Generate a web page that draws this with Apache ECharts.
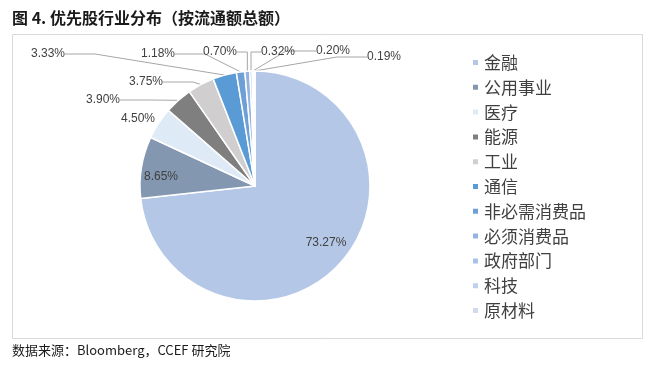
<!DOCTYPE html>
<html>
<head>
<meta charset="utf-8">
<script src="https://cdn.jsdelivr.net/npm/echarts@6/dist/echarts.min.js"></script>
<style>
html,body{margin:0;padding:0;background:#fff;}
#c{width:656px;height:366px;}
</style>
</head>
<body>
<div id="c"></div>
<script>
// ---- data ----
const categories = ['金融','公用事业','医疗','能源','工业','通信','非必需消费品','必须消费品','政府部门','科技','原材料'];
const values = [73.27, 8.65, 4.50, 3.90, 3.75, 3.33, 1.18, 0.70, 0.32, 0.20, 0.19];
const titleText = '图 4. 优先股行业分布（按流通额总额）';
const sourceText = '数据来源：Bloomberg，CCEF 研究院';

// ---- styles / layout ----
const colors = ['#B4C7E7','#8497B0','#DEEBF7','#7F7F7F','#D0CECE','#5B9BD5','#6E9FD6','#95B3DF','#A9C2E8','#BDD1EE','#D0DBEF'];
const labelPos = [[326,243],[161,177],[138,119],[103,100],[146,82],[48,54],[158,54],[220,52],[278,52],[333,51],[384,57]];
const insideIdx = [0,1];

const data = categories.map((n,i)=>{
  const item = {name:n, value:values[i], itemStyle:{color:colors[i]}};
  if (insideIdx.indexOf(i) >= 0) {
    item.label = {position:'inside'};
    item.labelLine = {show:false};
  }
  if (i === 2) { item.labelLine = {show:false}; }
  return item;
});

const chart = echarts.init(document.getElementById('c'), null, {renderer:'canvas'});
chart.setOption({
  animation:false,
  graphic:[
    {type:'text', left:12, top:10, style:{text:titleText, font:'bold 16px "Noto Sans CJK SC", sans-serif', fill:'#1a1a1a'}},
    {type:'rect', shape:{x:12.5, y:34.5, width:630, height:304}, style:{fill:'none', stroke:'#d9d9d9', lineWidth:1}, silent:true},
    {type:'text', left:12, top:344, style:{text:sourceText, font:'13px "Noto Sans CJK SC", sans-serif', fill:'#1a1a1a'}}
  ],
  legend:{
    orient:'vertical', left:466, top:49,
    icon:'rect', itemWidth:7, itemHeight:7, itemGap:7.8,
    textStyle:{fontSize:17, lineHeight:17, color:'#404040', fontFamily:'"Noto Sans CJK SC", sans-serif', padding:[0,0,0,0]},
    data:categories
  },
  series:[{
    type:'pie',
    center:[255,186],
    radius:115,
    startAngle:90,
    clockwise:true,
    avoidLabelOverlap:false,
    data:data,
    itemStyle:{borderColor:'#fff', borderWidth:1.5},
    label:{
      show:true,
      formatter:p=>p.value.toFixed(2)+'%',
      fontSize:12,
      fontFamily:'"Liberation Sans", Arial, sans-serif',
      color:'#404040'
    },
    labelLine:{show:true, lineStyle:{color:'#a6a6a6', width:1}},
    labelLayout:function(params){
      const p = labelPos[params.dataIndex];
      return {x:p[0], y:p[1], align:'center', verticalAlign:'middle'};
    }
  }]
});
</script>
</body>
</html>
